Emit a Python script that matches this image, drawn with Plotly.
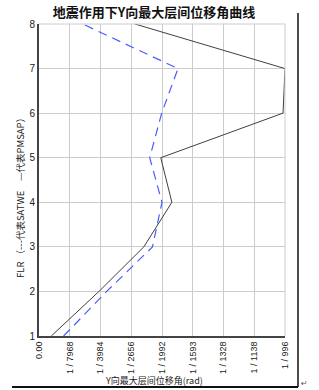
import plotly.graph_objects as go

floors = [1, 2, 3, 4, 5, 6, 7, 8]
# inter-storey drift denominators (drift = 1/denominator)
satwe_denoms = [19920, 4086, 2337, 1844, 2012, 1004, 996, 2554]
pmsap_denoms = [9960, 3622, 2159, 1992, 2213, 1997, 1763, 5611]
tick_denoms = [7968, 3984, 2656, 1992, 1593, 1328, 1138, 996]
tick_labels = ["0.00"] + ["1 / %d" % d for d in tick_denoms]
y_ticks = [1, 2, 3, 4, 5, 6, 7, 8]

satwe = [1.0 / d for d in satwe_denoms]
pmsap = [1.0 / d for d in pmsap_denoms]
tick_vals = [0.0] + [k / 7968.0 for k in range(1, 9)]

W, H = 319, 390
ML, MR, MT, MB = 39, 34, 24, 54
PW, PH = W - ML - MR, H - MT - MB


def px(xp):
    return (xp - ML) / PW


def py(yp):
    return (H - MB - yp) / PH


fig = go.Figure()
fig.add_trace(go.Scatter(x=satwe, y=floors, mode="lines",
                         line=dict(color="#404040", width=1), name="SATWE"))
fig.add_trace(go.Scatter(x=pmsap, y=floors, mode="lines",
                         line=dict(color="#4a5cff", width=1.2, dash="9px,6px"), name="PMSAP"))

font_lat = "Liberation Sans, DejaVu Sans, sans-serif"
font_cjk = "Noto Sans CJK SC, sans-serif"

fig.update_layout(
    width=W, height=H,
    margin=dict(l=ML, r=MR, t=MT, b=MB, autoexpand=False),
    paper_bgcolor="white", plot_bgcolor="white",
    showlegend=False,
    font=dict(family=font_lat, size=10, color="#222"),
    title=dict(text="<b>地震作用下Y向最大层间位移角曲线</b>",
               font=dict(family=font_cjk, size=13, color="#111"),
               x=0.483, xanchor="center", y=0.967, yanchor="middle"),
)
fig.update_xaxes(range=[0, 8 / 7968.0], tickmode="array", tickvals=tick_vals,
                 ticktext=tick_labels, tickangle=-90, automargin=False,
                 tickfont=dict(family=font_lat, size=9, color="#222"),
                 showgrid=True, gridcolor="#cccccc", gridwidth=1,
                 showline=True, linecolor="#444444", linewidth=2,
                 zeroline=False, ticks="", ticklen=0)
fig.update_yaxes(range=[1, 8], tickmode="array", tickvals=y_ticks, automargin=False,
                 tickfont=dict(family=font_lat, size=10, color="#222"),
                 showgrid=True, gridcolor="#cccccc", gridwidth=1,
                 showline=True, linecolor="#444444", linewidth=2,
                 zeroline=False, ticks="")

# axis titles
fig.add_annotation(text="Y向最大层间位移角(rad)", xref="paper", yref="paper",
                   x=px(154), y=py(380), showarrow=False,
                   xanchor="center", yanchor="middle",
                   font=dict(family=font_cjk, size=9, color="#222"))
fig.add_annotation(text="FLR （---代表SATWE　—代表PMSAP）", xref="paper", yref="paper",
                   x=px(20), y=py(196), showarrow=False, textangle=-90,
                   xanchor="center", yanchor="middle",
                   font=dict(family=font_cjk, size=9.5, color="#222"))

# right/top frame in light grey
fig.add_shape(type="line", xref="x domain", yref="y domain", x0=1, x1=1, y0=0, y1=1,
              line=dict(color="#cccccc", width=1))
fig.add_shape(type="line", xref="x domain", yref="y domain", x0=0, x1=1, y0=1, y1=1,
              line=dict(color="#cccccc", width=1))
# document border: vertical and bottom lines
fig.add_shape(type="path", xref="paper", yref="paper",
              path="M %f,%f L %f,%f" % (px(298), py(13), px(298), py(387)),
              line=dict(color="#111111", width=1.5))
fig.add_shape(type="path", xref="paper", yref="paper",
              path="M %f,%f L %f,%f" % (px(12), py(387), px(298), py(387)),
              line=dict(color="#111111", width=2))
fig.add_annotation(text="↵", xref="paper", yref="paper",
                   x=px(299), y=py(383), showarrow=False,
                   xanchor="left", yanchor="middle",
                   font=dict(family="DejaVu Sans", size=8, color="#555"))

fig.write_html("out.html")
